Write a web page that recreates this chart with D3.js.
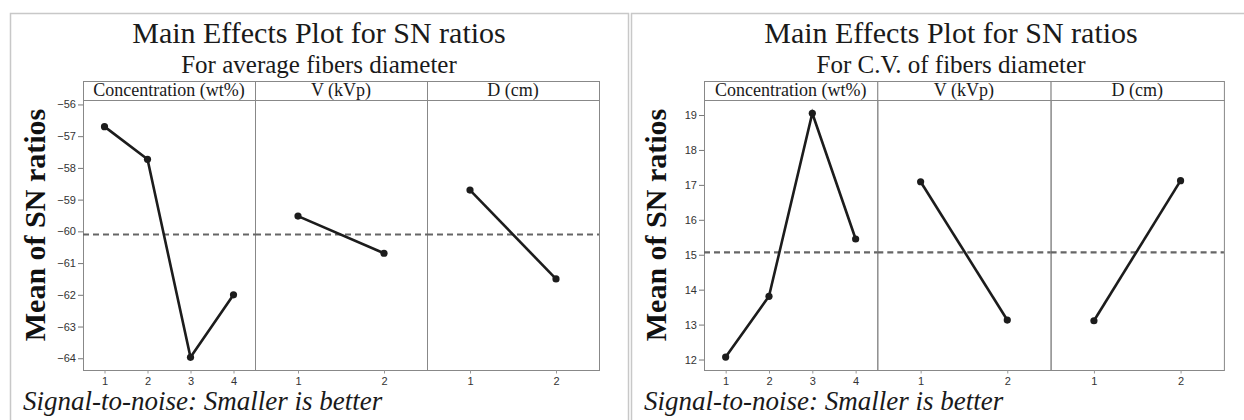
<!DOCTYPE html>
<html>
  <head>
    <meta charset="utf-8">
    <title>Main Effects Plot for SN ratios</title>
    <script src="https://cdnjs.cloudflare.com/ajax/libs/d3/7.8.5/d3.min.js"></script>
    <style>
      body { margin: 0; background-color: white }
      svg { display: block }
      .serif { font-family: "Liberation Serif", "Times New Roman", serif; fill: #1a1a1a }
      .tick text { font-family: "Liberation Sans", Arial, sans-serif; font-size: 11px; fill: #333 }
    </style>
  </head>
  <body>
    <div id="chart"></div>
  <script>
// factors and their levels
var factors = ["Concentration (wt%)", "V (kVp)", "D (cm)"];
var levels = [[1, 2, 3, 4], [1, 2], [1, 2]];

// chart 1: average fibers diameter
var avgConc = [-56.7, -57.73, -63.97, -62.0];
var avgV = [-59.52, -60.69];
var avgD = [-58.7, -61.5];
var avgMean = -60.1;
var avgTicks = [-56, -57, -58, -59, -60, -61, -62, -63, -64];

// chart 2: C.V. of fibers diameter
var cvConc = [12.07, 13.81, 19.05, 15.45];
var cvV = [17.09, 13.13];
var cvD = [13.11, 17.12];
var cvMean = 15.07;
var cvTicks = [12, 13, 14, 15, 16, 17, 18, 19];

var title = "Main Effects Plot for SN ratios";
var subtitles = ["For average fibers diameter", "For C.V. of fibers diameter"];
var yTitle = "Mean of SN ratios";
var caption = "Signal-to-noise: Smaller is better";

var svg = d3.select("#chart").append("svg")
    .attr("width", 1244)
    .attr("height", 420);

function drawChart(ox, frameW, panelW, sub, series, mean, ticks, yDomain) {
    var g = svg.append("g").attr("transform", "translate(" + ox + ",0)");
    var top = 100, bottom = 370, left = 83, stripTop = 81;

    // outer frame
    g.append("rect")
	.attr("x", 10.5).attr("y", 13.5)
	.attr("width", frameW).attr("height", 430)
	.attr("fill", "none").attr("stroke", "#c8c8c8").attr("stroke-width", 1.5);

    var cx = 10 + frameW / 2;
    g.append("text").attr("class", "serif")
	.attr("x", cx).attr("y", 43)
	.attr("text-anchor", "middle")
	.attr("font-size", 30)
	.text(title);
    g.append("text").attr("class", "serif")
	.attr("x", cx).attr("y", 73)
	.attr("text-anchor", "middle")
	.attr("font-size", 25)
	.text(sub);

    var y = d3.scaleLinear().domain(yDomain).range([bottom, top]);

    // y axis title
    g.append("text").attr("class", "serif")
	.attr("transform", "translate(45,225) rotate(-90)")
	.attr("text-anchor", "middle")
	.attr("font-size", 30)
	.attr("font-weight", "bold")
	.style("fill", "#111")
	.text(yTitle);

    // y axis
    var yAxis = g.append("g").attr("transform", "translate(" + left + ",0)")
	.call(d3.axisLeft(y).tickValues(ticks).tickSize(5).tickPadding(2));
    yAxis.attr("font-family", null).attr("font-size", null);
    yAxis.select(".domain").remove();
    yAxis.selectAll("line").attr("stroke", "#777");

    series.forEach(function(vals, i){
	var x0 = left + i * panelW;
	var lv = levels[i];
	var x = d3.scaleLinear()
	    .domain([0.5, lv.length + 0.5])
	    .range([x0, x0 + panelW]);

	// strip header
	g.append("rect")
	    .attr("x", x0 + 0.5).attr("y", stripTop + 0.5)
	    .attr("width", panelW).attr("height", top - stripTop)
	    .attr("fill", "white").attr("stroke", "#888");
	g.append("text").attr("class", "serif")
	    .attr("x", x0 + panelW / 2).attr("y", 96)
	    .attr("text-anchor", "middle")
	    .attr("font-size", 18)
	    .text(factors[i]);

	// panel
	g.append("rect")
	    .attr("x", x0 + 0.5).attr("y", top + 0.5)
	    .attr("width", panelW).attr("height", bottom - top)
	    .attr("fill", "none").attr("stroke", "#888");

	// x axis
	var xAxis = g.append("g").attr("transform", "translate(0," + (bottom + 0.5) + ")")
	    .call(d3.axisBottom(x).tickValues(lv).tickFormat(d3.format("d")).tickSize(3).tickPadding(4));
	xAxis.attr("font-family", null).attr("font-size", null);
	xAxis.select(".domain").remove();
	xAxis.selectAll("line").attr("stroke", "#999");

	// overall mean
	g.append("line")
	    .attr("x1", x0).attr("x2", x0 + panelW)
	    .attr("y1", y(mean)).attr("y2", y(mean))
	    .attr("stroke", "#666").attr("stroke-width", 2.2)
	    .attr("stroke-dasharray", "6,4");

	var line = d3.line()
	    .x(function(d, j){ return x(lv[j]); })
	    .y(function(d){ return y(d); });
	g.append("path").datum(vals)
	    .attr("d", line)
	    .attr("fill", "none").attr("stroke", "#1c1c1c").attr("stroke-width", 2.6);
	g.selectAll(null).data(vals).enter().append("circle")
	    .attr("cx", function(d, j){ return x(lv[j]); })
	    .attr("cy", function(d){ return y(d); })
	    .attr("r", 3.6)
	    .attr("fill", "#1c1c1c");
    });

    g.append("text").attr("class", "serif")
	.attr("x", 23).attr("y", 410)
	.attr("font-size", 27)
	.attr("font-style", "italic")
	.text(caption);
}

drawChart(0, 618, 172, subtitles[0], [avgConc, avgV, avgD], avgMean, avgTicks, [-64.37, -55.86]);
drawChart(621, 640, 173.3, subtitles[1], [cvConc, cvV, cvD], cvMean, cvTicks, [11.70, 19.43]);
  </script>
  </body>
</html>
